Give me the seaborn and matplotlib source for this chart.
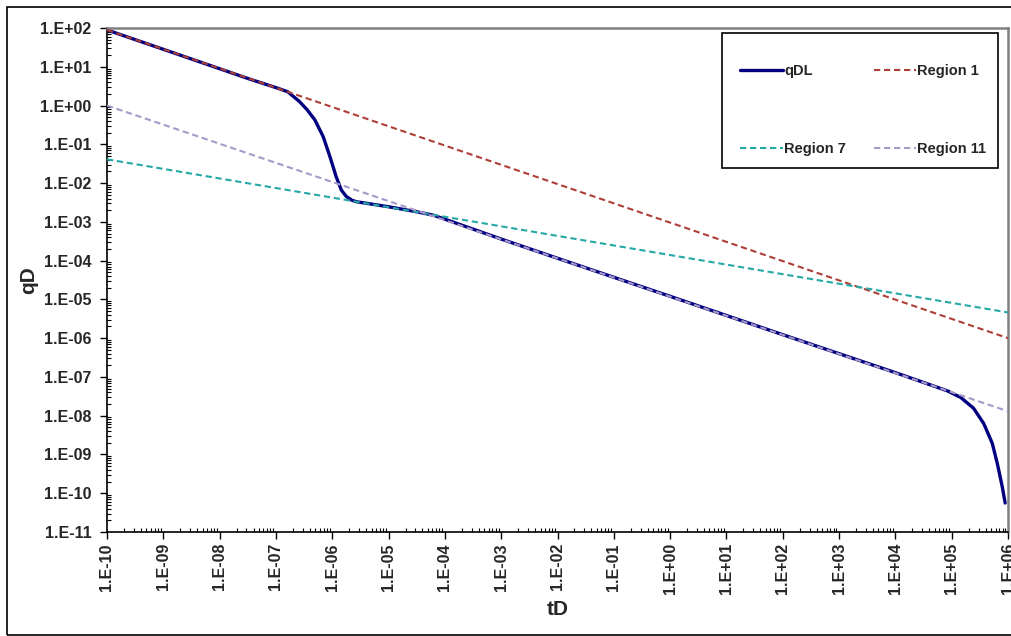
import numpy as np
import pandas as pd
import matplotlib
matplotlib.use("Agg")
import matplotlib.pyplot as plt
import matplotlib.ticker as mticker
from matplotlib.patches import Rectangle
from matplotlib.lines import Line2D
import seaborn as sns

# ---- data ----
t_qdl = [1e-10, 1e-9, 1e-8, 3.16e-8, 1e-7, 1.62e-7, 2.63e-7, 3.55e-7, 4.9e-7, 6.9e-7,
         9.1e-7, 1.17e-6, 1.45e-6, 1.78e-6, 2.24e-6, 2.7e-6, 1e-5, 3.16e-5, 6.3e-5, 1e-4,
         3.16e-4, 1e-3, 1e-2, 1.0, 1e2, 1e4, 3.16e4, 8.3e4, 1.45e5, 2.45e5,
         3.7e5, 5.25e5, 6.45e5, 7.9e5, 8.9e5]
q_qdl = [89, 28.2, 8.9, 5.0, 2.9, 2.27, 1.26, 0.79, 0.43, 0.158,
         0.048, 0.0148, 6.6e-3, 4.5e-3, 3.6e-3, 3.3e-3, 2.45e-3, 1.82e-3, 1.48e-3, 1.17e-3,
         6.5e-4, 3.6e-4, 1.15e-4, 1.2e-5, 1.23e-6, 1.29e-7, 7.2e-8, 4.4e-8, 2.95e-8, 1.55e-8,
         6.3e-9, 1.95e-9, 5.9e-10, 1.48e-10, 5.6e-11]

t_r1 = [1e-10, 1e6]
q_r1 = [89, 1.0e-6]
t_r7 = [1e-10, 1e6]
q_r7 = [0.041, 4.6e-6]
t_r11 = [1e-10, 1e6]
q_r11 = [1.0, 1.3e-8]

x_ticks = [1e-10, 1e-9, 1e-8, 1e-7, 1e-6, 1e-5, 1e-4, 1e-3, 1e-2, 1e-1, 1e0,
           1e1, 1e2, 1e3, 1e4, 1e5, 1e6]
y_ticks = [1e-11, 1e-10, 1e-9, 1e-8, 1e-7, 1e-6, 1e-5, 1e-4, 1e-3, 1e-2, 1e-1,
           1e0, 1e1, 1e2]

labels = ["qDL", "Region 1", "Region 7", "Region 11"]
colors = ["#000080", "#AE3F38", "#26A9A5", "#A899C8"]

sns.set_style("white")
plt.rcParams["font.family"] = ["Liberation Sans", "DejaVu Sans"]
plt.rcParams["font.weight"] = "bold"

W, H = 1011, 636
fig = plt.figure(figsize=(W / 100, H / 100), dpi=100)
L, R, T, B = 107, 1008, 28, 532
ax = fig.add_axes([L / W, 1 - B / H, (R - L) / W, (B - T) / H])

dash = (3, 1.8)
series = [(t_qdl, q_qdl), (t_r1, q_r1), (t_r7, q_r7), (t_r11, q_r11)]
for i, ((tx, qy), lab, col) in enumerate(zip(series, labels, colors)):
    df = pd.DataFrame({"t": tx, "q": qy})
    sns.lineplot(data=df, x="t", y="q", ax=ax, color=col,
                 lw=2.4 if i == 0 else 1.5, estimator=None, sort=False,
                 legend=False, zorder=2 + i)
    if i > 0:
        ax.lines[-1].set_dashes(dash)

ax.set_xscale("log")
ax.set_yscale("log")
ax.set_xlim(1e-10, 1e6)
ax.set_ylim(1e-11, 1e2)


def fmt(v, pos=None):
    e = int(round(np.log10(v)))
    return f"1.E{e:+03d}"


ax.xaxis.set_major_locator(mticker.FixedLocator(x_ticks))
ax.yaxis.set_major_locator(mticker.FixedLocator(y_ticks))
ax.xaxis.set_major_formatter(mticker.FuncFormatter(fmt))
ax.yaxis.set_major_formatter(mticker.FuncFormatter(fmt))
ax.xaxis.set_minor_locator(mticker.LogLocator(base=10, subs=np.arange(2, 10), numticks=200))
ax.yaxis.set_minor_locator(mticker.LogLocator(base=10, subs=np.arange(2, 10), numticks=200))
ax.xaxis.set_minor_formatter(mticker.NullFormatter())
ax.yaxis.set_minor_formatter(mticker.NullFormatter())

ax.tick_params(axis="both", which="major", direction="out", length=5, width=1,
               color="black", labelsize=11.5, bottom=True, left=True)
ax.tick_params(axis="both", which="minor", direction="in", length=3, width=0.8,
               color="black", bottom=True, left=True)
ax.tick_params(axis="y", which="major", pad=6)
ax.tick_params(axis="x", which="major", pad=3, labelrotation=90)
for lab in ax.get_xticklabels() + ax.get_yticklabels():
    lab.set_fontweight("bold")

for s in ["left", "bottom"]:
    ax.spines[s].set_color("black")
    ax.spines[s].set_linewidth(1.2)
for s in ["top", "right"]:
    ax.spines[s].set_color("#808080")
    ax.spines[s].set_linewidth(1.8)

ax.set_xlabel("tD", fontsize=15, fontweight="bold")
ax.set_ylabel("qD", fontsize=15, fontweight="bold")
ax.xaxis.set_label_coords(0.5, -(600 - B) / (B - T))
ax.yaxis.set_label_coords((38 - L) / (R - L), 0.5)

# legend (order: qDL, Region 7 | Region 1, Region 11 -> rows qDL/Region 1, Region 7/Region 11)
handles = [ax.lines[0], ax.lines[2], ax.lines[1], ax.lines[3]]
hl = []
for h in handles:
    ln = Line2D([], [], color=h.get_color(), lw=h.get_linewidth())
    if h is not ax.lines[0]:
        ln.set_dashes(dash)
    hl.append(ln)
leg = fig.legend(hl, [labels[0], labels[2], labels[1], labels[3]], ncol=2,
                 loc="upper left", bbox_to_anchor=(733 / W, 1 - 57 / H),
                 frameon=False, borderpad=0, handlelength=2.9, handletextpad=0.1,
                 columnspacing=1.9, labelspacing=4.4,
                 prop={"weight": "bold", "size": 10.5})
fig.add_artist(Rectangle((722 / W, 1 - 168 / H), (998 - 722) / W, (168 - 33) / H,
                         transform=fig.transFigure, fill=False, edgecolor="black",
                         lw=1.2))

# outer chart border
fig.add_artist(Rectangle((7 / W, 1 / H), (W + 5 - 7) / W, (635 - 7) / H,
                         transform=fig.transFigure, fill=False, edgecolor="black",
                         lw=1.2, clip_on=False))

fig.savefig("out.png", dpi=100, facecolor="white")
